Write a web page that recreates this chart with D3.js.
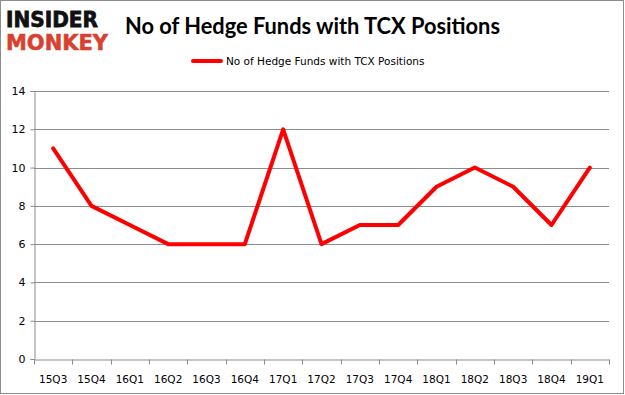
<!DOCTYPE html>
<html>
<head>
<meta charset="utf-8">
<script src="https://cdn.jsdelivr.net/npm/d3@7"></script>
<style>
  body { margin: 0; background: #fff; }
  svg { display: block; }
</style>
</head>
<body>
<svg width="625" height="395"></svg>
<script>
// data
var quarters = ["15Q3", "15Q4", "16Q1", "16Q2", "16Q3", "16Q4", "17Q1", "17Q2",
                "17Q3", "17Q4", "18Q1", "18Q2", "18Q3", "18Q4", "19Q1"];
var fundCounts = [11, 8, 7, 6, 6, 6, 12, 6, 7, 7, 9, 10, 9, 7, 10];
var yTicks = [0, 2, 4, 6, 8, 10, 12, 14];
var seriesName = "No of Hedge Funds with TCX Positions";

var svg = d3.select("svg"),
    width = +svg.attr("width"),
    height = +svg.attr("height");

var plot = {left: 34, right: 609, top: 91, bottom: 359};

// outer frame
svg.append("rect")
    .attr("x", 0.5).attr("y", 0.5)
    .attr("width", width - 2).attr("height", height - 2)
    .attr("fill", "#fff")
    .attr("stroke", "#8c8c8c");

// logo
svg.append("text")
    .attr("x", 6).attr("y", 27)
    .attr("font-family", "DejaVu Sans")
    .attr("font-weight", "bold")
    .attr("font-size", 21)
    .attr("textLength", 92)
    .attr("lengthAdjust", "spacingAndGlyphs")
    .attr("fill", "#111")
    .attr("stroke", "#111").attr("stroke-width", 0.8)
    .text("INSIDER");
svg.append("text")
    .attr("x", 6).attr("y", 50)
    .attr("font-family", "DejaVu Sans")
    .attr("font-weight", "bold")
    .attr("font-size", 22)
    .attr("textLength", 102)
    .attr("lengthAdjust", "spacingAndGlyphs")
    .attr("fill", "#d8412f")
    .attr("stroke", "#d8412f").attr("stroke-width", 0.6)
    .text("MONKEY");

// title
svg.append("text")
    .attr("x", 125).attr("y", 34)
    .attr("font-family", "Lato")
    .attr("font-weight", "bold")
    .attr("font-size", 22)
    .attr("textLength", 375)
    .attr("lengthAdjust", "spacingAndGlyphs")
    .attr("fill", "#000")
    .text("No of Hedge Funds with TCX Positions");

var x = d3.scaleBand()
    .domain(quarters)
    .range([plot.left, plot.right]);

var y = d3.scaleLinear()
    .domain([0, 14])
    .range([plot.bottom, plot.top]);

// gridlines
svg.append("g")
    .selectAll("line")
    .data(yTicks.filter(function (d) { return d > 0; }))
    .enter().append("line")
    .attr("x1", plot.left).attr("x2", plot.right)
    .attr("y1", function (d) { return Math.round(y(d)) + 0.5; })
    .attr("y2", function (d) { return Math.round(y(d)) + 0.5; })
    .attr("stroke", "#8c8c8c")
    .attr("stroke-width", 1);

// y axis
var yAxis = svg.append("g")
    .attr("transform", "translate(" + (plot.left + 0.5) + ",0)")
    .call(d3.axisLeft(y).tickValues(yTicks).tickSize(4).tickPadding(5));

// x axis
var xAxis = svg.append("g")
    .attr("transform", "translate(0," + (Math.round(plot.bottom) + 0.5) + ")")
    .call(d3.axisBottom(x).tickSize(0).tickPadding(16));

// x tick marks sit on the band boundaries
xAxis.selectAll(".bound")
    .data(quarters.concat(["end"]))
    .enter().append("line")
    .attr("class", "bound")
    .attr("x1", function (d, i) { return Math.round(plot.left + i * x.step()) + 0.5; })
    .attr("x2", function (d, i) { return Math.round(plot.left + i * x.step()) + 0.5; })
    .attr("y1", 0).attr("y2", 5)
    .attr("stroke", "#8c8c8c");

[yAxis, xAxis].forEach(function (ax) {
    ax.select(".domain").attr("stroke", "#8c8c8c");
    ax.selectAll(".tick line").attr("stroke", "#8c8c8c");
    ax.selectAll("text")
        .attr("font-family", "DejaVu Sans")
        .attr("font-size", 11)
        .attr("fill", "#000");
});
xAxis.selectAll(".tick text").attr("font-size", 10.5);

// series line
var line = d3.line()
    .x(function (d, i) { return x(quarters[i]) + x.bandwidth() / 2; })
    .y(function (d) { return y(d); });

svg.append("path")
    .datum(fundCounts)
    .attr("d", line)
    .attr("fill", "none")
    .attr("stroke", "#ff0000")
    .attr("stroke-width", 4)
    .attr("stroke-linejoin", "round")
    .attr("stroke-linecap", "round");

// legend
svg.append("line")
    .attr("x1", 193).attr("x2", 221)
    .attr("y1", 61).attr("y2", 61)
    .attr("stroke", "#ff0000")
    .attr("stroke-width", 4)
    .attr("stroke-linecap", "round");
svg.append("text")
    .attr("x", 226).attr("y", 65)
    .attr("font-family", "DejaVu Sans")
    .attr("font-size", 10.5)
    .attr("fill", "#000")
    .text(seriesName);
</script>
</body>
</html>
